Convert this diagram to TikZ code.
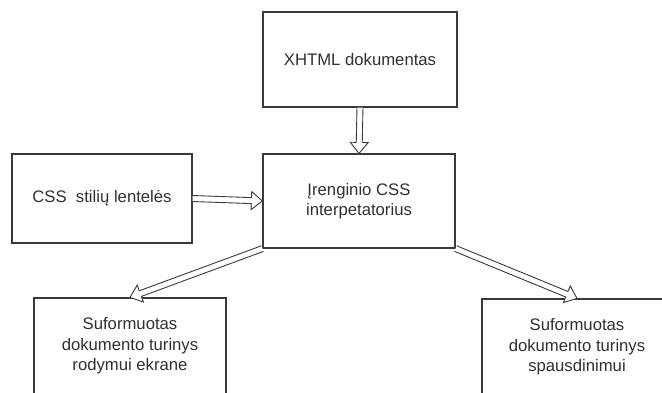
\documentclass[tikz,border=0pt]{standalone}
\usepackage{fontspec}
\setmainfont{Liberation Sans}
\usetikzlibrary{calc}

\definecolor{edge}{HTML}{3A3A3A}
\definecolor{ink}{HTML}{303030}

\tikzset{
  box/.style={draw=edge, line width=1.2pt, fill=white, rectangle, inner sep=0pt,
    align=center, text=ink, font=\fontsize{16.7}{20.5}\selectfont},
  arrowline/.style={draw=edge, line width=0.9pt, fill=white, line join=miter},
}

% hollow block arrow from #1 to #2 (shaft 6pt wide, head 18pt wide, 11pt long)
\newcommand\blockarrow[2]{%
  \coordinate (ba-s) at (#1);
  \coordinate (ba-e) at (#2);
  \coordinate (ba-b) at ($(ba-e)!11pt!(ba-s)$);
  \draw[arrowline]
    ($(ba-s)!3pt!90:(ba-e)$) -- ($(ba-b)!3pt!90:(ba-e)$) --
    ($(ba-b)!9pt!90:(ba-e)$) -- (ba-e) --
    ($(ba-b)!9pt!-90:(ba-e)$) -- ($(ba-b)!3pt!-90:(ba-e)$) --
    ($(ba-s)!3pt!-90:(ba-e)$);
}

\begin{document}
\begin{tikzpicture}[x=1pt, y=-1pt]
  \useasboundingbox (0,0) rectangle (662,392);
  \fill[white] (0,0) rectangle (662,392);
  \clip (0,0) rectangle (662,392);

  \node[box, minimum width=194, minimum height=95] (xhtml) at (360,59.5) {XHTML dokumentas};
  \node[box, minimum width=180, minimum height=89] (css) at (102,198.5) {CSS\ \ stilių lentelės};
  \node[box, minimum width=192, minimum height=94] (mid) at (359,201) {Įrenginio CSS\\interpetatorius};
  \node[box, minimum width=192, minimum height=96] (scr) at (130,346) {Suformuotas\\dokumento turinys\\rodymui ekrane};
  \node[box, minimum width=190, minimum height=96] (prn) at (577,347) {Suformuotas\\dokumento turinys\\spausdinimui};

  \blockarrow{xhtml.south}{mid.north}
  \blockarrow{css.east}{mid.west}
  \blockarrow{mid.south west}{scr.north}
  \blockarrow{mid.south east}{prn.north}
\end{tikzpicture}
\end{document}
